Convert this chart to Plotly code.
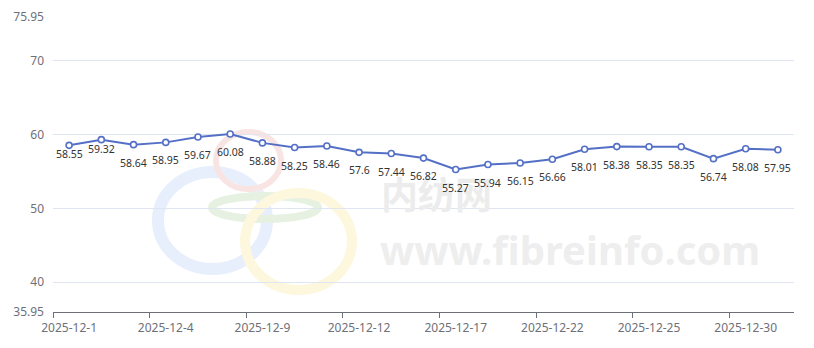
import plotly.graph_objects as go

dates = ["2025-12-1", "2025-12-2", "2025-12-3", "2025-12-4", "2025-12-5",
         "2025-12-8", "2025-12-9", "2025-12-10", "2025-12-11", "2025-12-12",
         "2025-12-15", "2025-12-16", "2025-12-17", "2025-12-18", "2025-12-19",
         "2025-12-22", "2025-12-23", "2025-12-24", "2025-12-25", "2025-12-26",
         "2025-12-29", "2025-12-30", "2025-12-31"]
values = [58.55, 59.32, 58.64, 58.95, 59.67, 60.08, 58.88, 58.25, 58.46, 57.6,
          57.44, 56.82, 55.27, 55.94, 56.15, 56.66, 58.01, 58.38, 58.35, 58.35,
          56.74, 58.08, 57.95]
y_ticks = [35.95, 40, 50, 60, 70, 75.95]
y_min, y_max = 35.95, 75.95

W, H = 814, 348
L, R, T, B = 53, 20, 17, 36
PW, PH = W - L - R, H - T - B

def px(x):
    return (x - L) / PW

def py(y):
    return (H - B - y) / PH

fig = go.Figure()
fig.add_trace(go.Scatter(
    x=dates, y=values, mode="lines+markers",
    line=dict(color="#5470C6", width=2),
    marker=dict(symbol="circle", size=6, color="#ffffff",
                line=dict(color="#5470C6", width=1.6)),
    cliponaxis=False, hoverinfo="x+y", showlegend=False,
))

# watermark rings (decorative)
rings = [
    (212.5, 220.5, 54.5, 48.5, 12, "#e8effc"),
    (248.5, 160.5, 32.5, 28.5, 6, "#f9e4e4"),
    (265.0, 207.5, 53.0, 11.5, 8, "#e6f1e2"),
    (298.5, 241.5, 53.5, 48.5, 10, "#fdf7dd"),
]
shapes = []
for cx, cy, rx, ry, lw, col in rings:
    shapes.append(dict(type="circle", xref="paper", yref="paper", layer="below",
                       x0=px(cx - rx), x1=px(cx + rx), y0=py(cy + ry), y1=py(cy - ry),
                       line=dict(color=col, width=lw), fillcolor="rgba(0,0,0,0)"))

annotations = [
    dict(text="<b>内纺网</b>", xref="paper", yref="paper", x=px(379), y=py(193),
         xanchor="left", yanchor="middle", showarrow=False,
         font=dict(size=37, color="#ececec", family="Noto Sans CJK SC")),
    dict(text="<b>www.fibreinfo.com</b>", xref="paper", yref="paper", x=px(378), y=py(249),
         xanchor="left", yanchor="middle", showarrow=False,
         font=dict(size=40, color="#eeeeee", family="Noto Sans, sans-serif")),
]

# data labels below each point
for i, (d, v) in enumerate(zip(dates, values)):
    annotations.append(dict(
        x=d, y=v, xref="x", yref="y", text=str(v), showarrow=False,
        xanchor="center", yanchor="middle", yshift=-9 if i < 2 else -18,
        font=dict(size=10.5, color="#333333", family="Noto Sans, sans-serif"),
    ))

fig.update_layout(
    width=W, height=H,
    margin=dict(l=L, r=R, t=T, b=B, autoexpand=False),
    paper_bgcolor="#ffffff", plot_bgcolor="#ffffff",
    font=dict(family="Noto Sans, sans-serif", size=12, color="#6E7079"),
    shapes=shapes, annotations=annotations,
    xaxis=dict(
        type="category", range=[-0.5, len(dates) - 0.5],
        tickmode="linear", tick0=0, dtick=3, tickson="boundaries",
        tickangle=0, automargin=False, ticklabelstandoff=5,
        ticks="outside", ticklen=5, tickcolor="#6E7079", tickwidth=1,
        showline=True, linecolor="#6E7079", linewidth=1,
        showgrid=False, zeroline=False,
        tickfont=dict(size=12, color="#6E7079"),
    ),
    yaxis=dict(
        range=[y_min, y_max], tickmode="array", tickvals=y_ticks,
        ticktext=[str(t) for t in y_ticks], automargin=False,
        showgrid=True, gridcolor="#E0E6F1", gridwidth=1,
        showline=False, zeroline=False, ticks="",
        ticklabelstandoff=8,
        tickfont=dict(size=12, color="#6E7079"),
    ),
)

fig.write_html("out.html")
